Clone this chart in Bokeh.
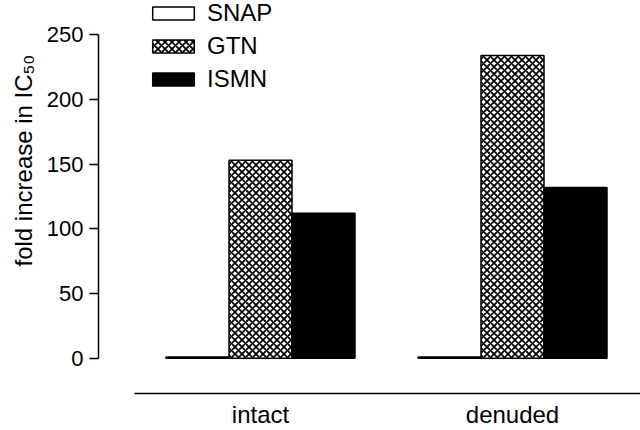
import math
from bokeh.plotting import figure
from bokeh.models import (ColumnDataSource, Range1d, FixedTicker, Legend, LegendItem, Title)
from bokeh.transform import dodge
from bokeh.embed import file_html
from bokeh.resources import INLINE

# ---- data ----
groups = ["intact", "denuded"]
series = ["SNAP", "GTN", "ISMN"]
snap = [1, 1]
gtn = [153, 234]
ismn = [112, 132]
y_ticks = [0, 50, 100, 150, 200, 250]
y_title = "fold increase in IC\u2085\u2080"

FONT = "Liberation Sans"

W, H = 640, 430
B_LEFT, B_RIGHT, B_TOP, B_BOTTOM = 98, 0, 0, 35
frame_w = W - B_LEFT - B_RIGHT
frame_h = H - B_TOP - B_BOTTOM

# layout constants (pixels in frame)
px_x = 252.0           # pixels per group
first_center = 162.0   # px from frame left to first group center
px_y = 1.3             # pixels per unit
zero_from_top = 359.5  # px from frame top to y=0

x_start = -first_center / px_x
x_end = x_start + frame_w / px_x
y_end = zero_from_top / px_y
y_start = -(frame_h - zero_from_top) / px_y

src = ColumnDataSource(dict(pos=list(range(len(groups))), SNAP=snap, GTN=gtn, ISMN=ismn))

p = figure(width=W, height=H, output_backend="svg", toolbar_location=None,
           x_range=Range1d(x_start, x_end), y_range=Range1d(y_start, y_end),
           min_border_left=B_LEFT, min_border_right=B_RIGHT,
           min_border_top=B_TOP, min_border_bottom=B_BOTTOM)
p.title.visible = False
p.outline_line_color = None
p.grid.visible = False
p.background_fill_color = "white"
p.border_fill_color = "white"

bw = 0.25
r_snap = p.vbar(x=dodge("pos", -bw, range=p.x_range), top="SNAP", bottom=0, width=bw, source=src,
                fill_color="white", line_color="black", line_width=1.5)
r_gtn = p.vbar(x=dodge("pos", 0, range=p.x_range), top="GTN", bottom=0, width=bw, source=src,
               fill_color="white", line_color="black", line_width=1.5,
               hatch_pattern="diagonal_cross", hatch_color="black", hatch_scale=7, hatch_weight=1.8)
r_ismn = p.vbar(x=dodge("pos", bw, range=p.x_range), top="ISMN", bottom=0, width=bw, source=src,
                fill_color="black", line_color="black", line_width=1.5)

# y axis
ya = p.yaxis[0]
ya.bounds = (0, 250)
ya.ticker = FixedTicker(ticks=y_ticks)
ya.minor_tick_line_color = None
ya.major_tick_in = 0
ya.major_tick_out = 9
ya.major_label_standoff = 6
ya.axis_line_width = 1.5
ya.major_tick_line_width = 1.5
ya.axis_line_color = "black"
ya.major_tick_line_color = "black"
ya.major_label_text_font = FONT
ya.major_label_text_font_size = "22px"
ya.major_label_text_color = "black"

# x axis
xa = p.xaxis[0]
xa.bounds = (-0.5, x_end)
xa.ticker = FixedTicker(ticks=list(range(len(groups))))
xa.major_label_overrides = {i: g for i, g in enumerate(groups)}
xa.minor_tick_line_color = None
xa.major_tick_in = 0
xa.major_tick_out = 0
xa.major_label_standoff = 7
xa.axis_line_width = 1.5
xa.axis_line_color = "black"
xa.major_label_text_font = FONT
xa.major_label_text_font_size = "24px"
xa.major_label_text_color = "black"

# y title in the left panel
t = Title(text=y_title, align="left", offset=127, standoff=9, vertical_align="top",
          text_font=FONT, text_font_size="24px", text_font_style="normal", text_color="black")
p.add_layout(t, "left")

# legend
legend = Legend(items=[LegendItem(label=s, renderers=[r], index=0)
                       for s, r in zip(series, [r_snap, r_gtn, r_ismn])],
                location=(49, frame_h - 95), orientation="vertical",
                glyph_width=52, glyph_height=16, label_standoff=8, spacing=5,
                padding=0, margin=0, border_line_color=None, background_fill_alpha=0,
                label_text_font=FONT, label_text_font_size="24px", label_text_color="black")
p.add_layout(legend)

open("out.html", "w").write(file_html(p, INLINE))
